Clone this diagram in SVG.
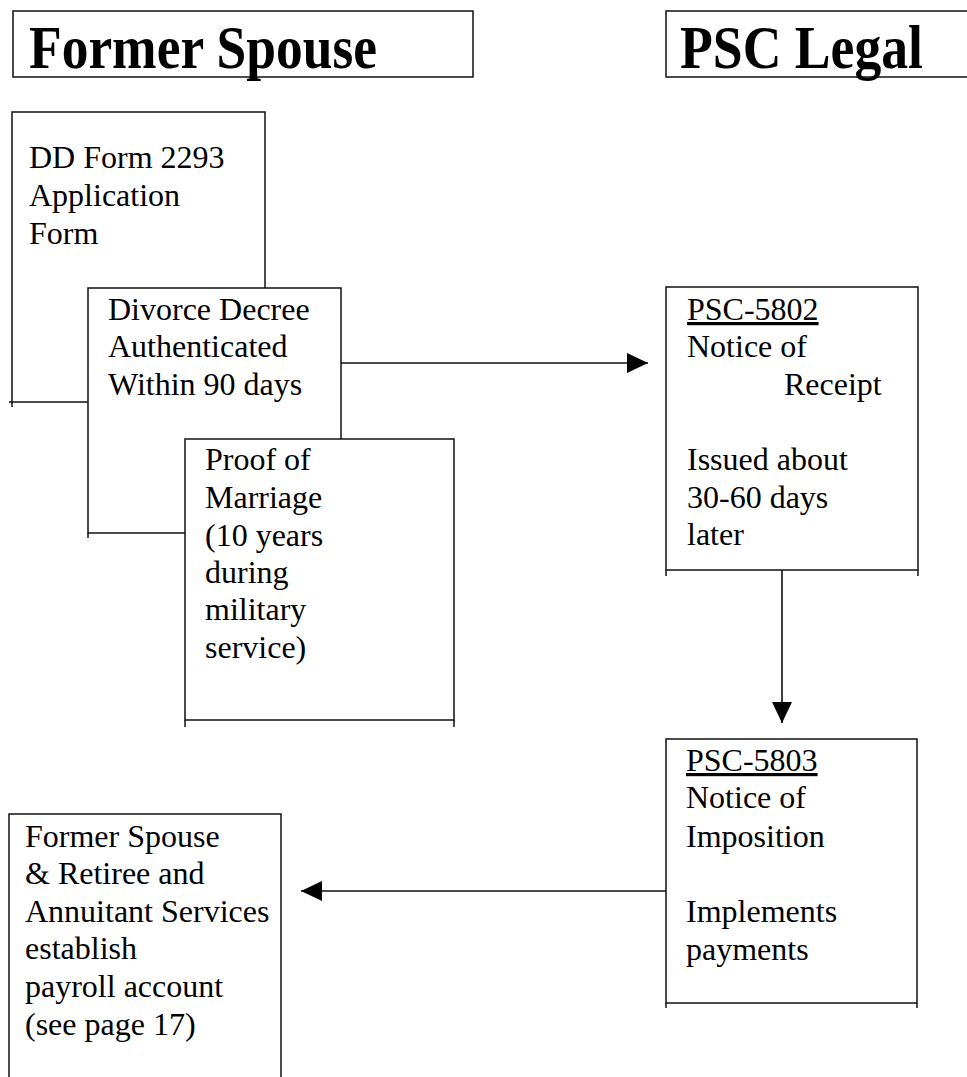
<svg xmlns="http://www.w3.org/2000/svg" width="967" height="1077" viewBox="0 0 967 1077">
<style>
.box{fill:#fff;stroke:#111;stroke-width:1.5}
.tick{stroke:#111;stroke-width:1.5;fill:none}
.hd{font-family:"Liberation Serif","Times New Roman",serif;font-weight:bold;font-size:62px;fill:#000}
.t{font-family:"Liberation Serif","Times New Roman",serif;font-size:32px;fill:#000}
.u{text-decoration:underline}
.conn{stroke:#111;stroke-width:1.6;fill:none}
</style>
<defs>
<marker id="arr" markerUnits="userSpaceOnUse" markerWidth="22" markerHeight="20" refX="21" refY="10" orient="auto">
<path d="M0,0 L21,10 L0,20 Z" fill="#000"/>
</marker>
</defs>
<rect width="967" height="1077" fill="#fff"/>

<g id="header-former-spouse">
<rect class="box" x="13" y="11" width="460" height="66"/>
<text class="hd" x="29" y="68" textLength="348" lengthAdjust="spacingAndGlyphs">Former Spouse</text>
</g>
<g id="header-psc-legal">
<rect class="box" x="666" y="11" width="320" height="66"/>
<text class="hd" x="680" y="68" textLength="243" lengthAdjust="spacingAndGlyphs">PSC Legal</text>
</g>

<g id="dd-form">
<rect class="box" x="12" y="112" width="253" height="290"/>
<path class="tick" d="M12,402 V407 M9,402 H12"/>
<text class="t" x="29" y="168">DD Form 2293</text>
<text class="t" x="29" y="206">Application</text>
<text class="t" x="29" y="244">Form</text>
</g>

<g id="divorce-decree">
<rect class="box" x="88" y="288" width="253" height="245"/>
<path class="tick" d="M88,533 V538"/>
<text class="t" x="108" y="320">Divorce Decree</text>
<text class="t" x="108" y="357">Authenticated</text>
<text class="t" x="108" y="395">Within 90 days</text>
</g>

<g id="proof-of-marriage">
<rect class="box" x="185" y="439" width="269" height="281"/>
<path class="tick" d="M185,720 V727 M454,720 V727"/>
<text class="t" x="205" y="470">Proof of</text>
<text class="t" x="205" y="508">Marriage</text>
<text class="t" x="205" y="546">(10 years</text>
<text class="t" x="205" y="583">during</text>
<text class="t" x="205" y="620">military</text>
<text class="t" x="205" y="658">service)</text>
</g>

<g id="psc-5802">
<rect class="box" x="666" y="287" width="252" height="283"/>
<path class="tick" d="M666,570 V576 M918,570 V576"/>
<text class="t u" x="687" y="320">PSC-5802</text>
<text class="t" x="687" y="357">Notice of</text>
<text class="t" x="784" y="395">Receipt</text>
<text class="t" x="687" y="470">Issued about</text>
<text class="t" x="687" y="508">30-60 days</text>
<text class="t" x="687" y="545">later</text>
</g>

<g id="psc-5803">
<rect class="box" x="666" y="739" width="251" height="264"/>
<path class="tick" d="M666,1003 V1008 M917,1003 V1008"/>
<text class="t u" x="686" y="771">PSC-5803</text>
<text class="t" x="686" y="808">Notice of</text>
<text class="t" x="686" y="847">Imposition</text>
<text class="t" x="686" y="922">Implements</text>
<text class="t" x="686" y="960">payments</text>
</g>

<g id="payroll-account">
<rect class="box" x="9" y="814" width="272" height="280"/>
<text class="t" x="25" y="847">Former Spouse</text>
<text class="t" x="25" y="884">&amp; Retiree and</text>
<text class="t" x="25" y="922">Annuitant Services</text>
<text class="t" x="25" y="959">establish</text>
<text class="t" x="25" y="997">payroll account</text>
<text class="t" x="25" y="1035">(see page 17)</text>
</g>

<g id="connectors">
<line class="conn" x1="341" y1="363" x2="648" y2="363" marker-end="url(#arr)"/>
<line class="conn" x1="782" y1="570" x2="782" y2="723" marker-end="url(#arr)"/>
<line class="conn" x1="666" y1="891" x2="301" y2="891" marker-end="url(#arr)"/>
</g>
</svg>
